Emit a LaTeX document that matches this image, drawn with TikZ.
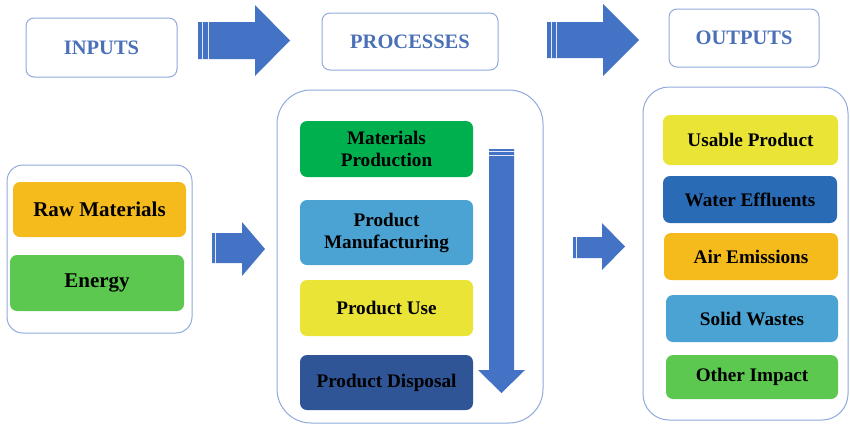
\documentclass[tikz,border=0pt]{standalone}
\usepackage{fontspec}
\setmainfont{Liberation Serif}
\begin{document}
\begin{tikzpicture}[x=1pt,y=-1pt,
  container/.style={draw=bordercol, line width=1pt, fill=white},
  headbox/.style={draw=bordercol, line width=1pt, rounded corners=8pt, fill=white,
    font=\fontsize{20.5}{22}\selectfont\bfseries, text=headtext},
  item/.style={rounded corners=7pt, align=center, inner sep=0pt,
    font=\fontsize{19.2}{22}\selectfont\bfseries, text=black},
  initem/.style={item, font=\fontsize{21}{23}\selectfont\bfseries},
  bigarrow/.style={fill=arrowblue, draw=none},
  stripe/.style={draw=white!85!arrowblue, line width=0.9pt}
]
\definecolor{bordercol}{HTML}{8FAADC}
\definecolor{headtext}{HTML}{4A70B8}
\definecolor{arrowblue}{HTML}{4472C4}
\definecolor{orangeC}{HTML}{F5BA1C}
\definecolor{lgreenC}{HTML}{5CC84F}
\definecolor{greenC}{HTML}{00B04F}
\definecolor{lblueC}{HTML}{4BA3D3}
\definecolor{yellowC}{HTML}{E9E436}
\definecolor{dblueC}{HTML}{2F5597}
\definecolor{waterC}{HTML}{2A6BB5}
\useasboundingbox (0,0) rectangle (850,426);

% headers
\node[headbox, minimum width=151pt, minimum height=59pt] (inputs) at (101.5,47.5) {INPUTS};
\node[headbox, minimum width=176pt, minimum height=57pt] (processes) at (410,41.5) {PROCESSES};
\node[headbox, minimum width=150pt, minimum height=58pt] (outputs) at (744,38) {OUTPUTS};

% top arrows
\fill[bigarrow] (198,22) -- (255,22) -- (255,5) -- (290,40.5) -- (255,76) -- (255,59) -- (198,59) -- cycle;
\draw[stripe] (202.5,22) -- (202.5,59);
\draw[stripe] (208,22) -- (208,59);
\fill[bigarrow] (547,22) -- (603,22) -- (603,4) -- (639,40) -- (603,76) -- (603,58) -- (547,58) -- cycle;
\draw[stripe] (551.5,22) -- (551.5,58);
\draw[stripe] (556,22) -- (556,58);

% containers
\node[container, rounded corners=16pt, minimum width=185pt, minimum height=168pt] (incont) at (99.5,249) {};
\node[container, rounded corners=34pt, minimum width=266pt, minimum height=333pt] (proccont) at (410,256.5) {};
\node[container, rounded corners=26pt, minimum width=205pt, minimum height=333pt] (outcont) at (745.5,253.5) {};

% inputs
\node[initem, fill=orangeC, minimum width=173pt, minimum height=55pt] (raw) at (99.5,209.5) {Raw Materials};
\node[initem, fill=lgreenC, minimum width=174pt, minimum height=56pt] (energy) at (97,283) {Energy};

% processes
\node[item, fill=greenC, minimum width=173pt, minimum height=56pt] (matprod) at (386.5,149) {Materials\\Production};
\node[item, fill=lblueC, minimum width=173pt, minimum height=65pt] (manuf) at (386.5,232.5) {Product\\Manufacturing};
\node[item, fill=yellowC, minimum width=173pt, minimum height=56pt] (use) at (386.5,308) {Product Use};
\node[item, fill=dblueC, minimum width=173pt, minimum height=55pt] (disp) at (386.5,382.5) {Product Disposal};

% down arrow
\fill[bigarrow] (489,149) -- (514,149) -- (514,370) -- (525,370) -- (501.5,393) -- (478,370) -- (489,370) -- cycle;
\draw[stripe] (489,151.5) -- (514,151.5);
\draw[stripe] (489,155) -- (514,155);

% outputs
\node[item, fill=yellowC, minimum width=175pt, minimum height=50pt] (usable) at (750.5,140) {Usable Product};
\node[item, fill=waterC, minimum width=174pt, minimum height=47pt] (water) at (750,199.5) {Water Effluents};
\node[item, fill=orangeC, minimum width=174pt, minimum height=47pt] (air) at (751,256.5) {Air Emissions};
\node[item, fill=lblueC, minimum width=172pt, minimum height=47pt] (solid) at (752,318.5) {Solid Wastes};
\node[item, fill=lgreenC, minimum width=172pt, minimum height=44pt] (other) at (752,377) {Other Impact};

% middle arrows
\fill[bigarrow] (212,233) -- (242,233) -- (242,222) -- (265,249) -- (242,276) -- (242,263) -- (212,263) -- cycle;
\draw[stripe] (215.5,233) -- (215.5,263);
\fill[bigarrow] (573,237) -- (602,237) -- (602,223) -- (625,246.5) -- (602,270) -- (602,258) -- (573,258) -- cycle;
\draw[stripe] (576.5,237) -- (576.5,258);
\end{tikzpicture}
\end{document}
